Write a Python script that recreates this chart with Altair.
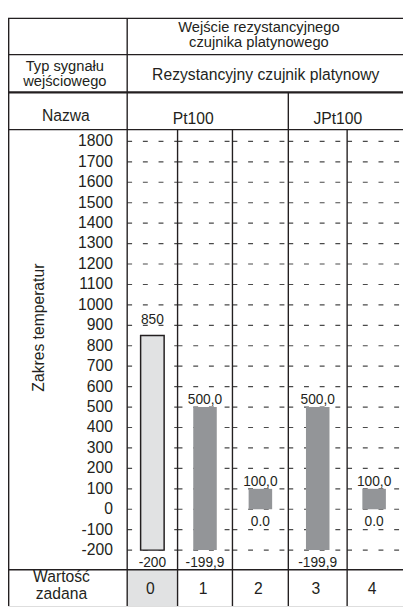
import altair as alt
import pandas as pd

# ---- data ----
setting_values = ["0", "1", "2", "3", "4"]
sensor_names = ["Pt100", "Pt100", "Pt100", "JPt100", "JPt100"]
range_max = [850, 500.0, 100.0, 500.0, 100.0]
range_min = [-200, -199.9, 0.0, -199.9, 0.0]
max_labels = ["850", "500,0", "100,0", "500,0", "100,0"]
min_labels = ["-200", "-199,9", "0.0", "-199,9", "0.0"]
tick_values = [-200, -100, 0, 100, 200, 300, 400, 500, 600, 700, 800, 900,
               1000, 1100, 1200, 1300, 1400, 1500, 1600, 1700, 1800]

header_top = ["Wejście rezystancyjnego", "czujnika platynowego"]
header_type_label = ["Typ sygnału", "wejściowego"]
header_type = "Rezystancyjny czujnik platynowy"
header_name_label = "Nazwa"
axis_title = "Zakres temperatur"
bottom_label = ["Wartość", "zadana"]

# ---- layout ----
W, H = 403, 600
FONT = "Liberation Sans"
INK = "#231f20"
DARK_BAR = "#939598"
LIGHT = "#e1e2e3"

xs = alt.Scale(type="linear", domain=[0, 1, 2, 3, 4, 5],
               range=[117, 173, 229, 286, 346, 406], zero=False, nice=False)
ys = alt.Scale(type="linear", domain=[-200, 1800], range=[543, 126],
               zero=False, nice=False)

df = pd.DataFrame({
    "idx": list(range(len(setting_values))),
    "setting": setting_values,
    "sensor": sensor_names,
    "vmax": range_max,
    "vmin": range_min,
    "lmax": max_labels,
    "lmin": min_labels,
})
df["xc"] = df["idx"] + 0.5
df["x0"] = df["idx"]
df["x1"] = df["idx"] + 1

grid = pd.DataFrame([(i, i + 1, t) for i in df["idx"] for t in tick_values],
                    columns=["x0", "x1", "t"])
ticks_df = pd.DataFrame({"t": tick_values, "label": [str(t) for t in tick_values]})
one = pd.DataFrame({"a": [0]})

X = lambda f: alt.X(f, scale=xs, axis=None)
Y = lambda f: alt.Y(f, scale=ys, axis=None)

layers = []

# bottom row highlighted cell
layers.append(alt.Chart(df[df.idx == 0]).mark_rect(color=LIGHT).encode(
    x=X("x0:Q"), x2="x1:Q", y=alt.value(563), y2=alt.value(H)))

# dashed grid lines per column
layers.append(alt.Chart(grid).mark_rule(color="#4a4a4a", strokeWidth=1.2,
                                        strokeDash=[5, 11]).encode(
    x=X("x0:Q"), x2="x1:Q", y=Y("t:Q")))

# bars
layers.append(alt.Chart(df[df.idx == 0]).mark_bar(
    size=24, color=LIGHT, stroke=INK, strokeWidth=1.5).encode(
    x=X("xc:Q"), y=Y("vmin:Q"), y2="vmax:Q"))
layers.append(alt.Chart(df[df.idx > 0]).mark_bar(size=24, color=DARK_BAR).encode(
    x=X("xc:Q"), y=Y("vmin:Q"), y2="vmax:Q"))

# bar labels
lbl = dict(font=FONT, fontSize=14, color=INK, align="center", baseline="alphabetic")
layers.append(alt.Chart(df[df.idx == 0]).mark_text(dy=-12, **lbl).encode(
    x=X("xc:Q"), y=Y("vmax:Q"), text="lmax:N"))
layers.append(alt.Chart(df[df.idx > 0]).mark_text(dy=-3, **lbl).encode(
    x=X("xc:Q"), y=Y("vmax:Q"), text="lmax:N"))
layers.append(alt.Chart(df).mark_text(dy=17, **lbl).encode(
    x=X("xc:Q"), y=Y("vmin:Q"), text="lmin:N"))

# y tick labels
layers.append(alt.Chart(ticks_df).mark_text(
    font=FONT, fontSize=16, color=INK, align="right", baseline="middle").encode(
    x=alt.value(107), y=Y("t:Q"), text="label:N"))

# axis title
layers.append(alt.Chart(one).mark_text(
    text=axis_title, font=FONT, fontSize=16, color=INK, angle=270,
    align="center", baseline="middle").encode(x=alt.value(32), y=alt.value(316)))

# table lines
line = dict(color=INK, strokeWidth=1.4)
for yy, sw in [(0.5, 1.4), (37.5, 1.4), (76, 2.4), (114, 1.4), (563, 1.4)]:
    layers.append(alt.Chart(one).mark_rule(color=INK, strokeWidth=sw).encode(
        x=alt.value(0), x2=alt.value(W), y=alt.value(yy)))
layers.append(alt.Chart(one).mark_rule(color=INK, strokeWidth=1.8).encode(
    x=alt.value(0.5), y=alt.value(0), y2=alt.value(H)))
# column dividers
layers.append(alt.Chart(df[df.idx == 0]).mark_rule(**line).encode(
    x=X("x0:Q"), y=alt.value(0), y2=alt.value(H)))
layers.append(alt.Chart(df[df.idx == 3]).mark_rule(**line).encode(
    x=X("x0:Q"), y=alt.value(76), y2=alt.value(H)))
layers.append(alt.Chart(df[df.idx.isin([1, 2, 4])]).mark_rule(**line).encode(
    x=X("x0:Q"), y=alt.value(114), y2=alt.value(H)))

# header texts
txt = dict(font=FONT, fontSize=16, color=INK, align="center", baseline="alphabetic")
hdr2 = dict(txt, fontSize=15)
layers.append(alt.Chart(one).mark_text(text=header_top, lineHeight=15, **hdr2).encode(
    x=alt.value(256), y=alt.value(14.5)))
layers.append(alt.Chart(one).mark_text(text=header_type_label, lineHeight=15, **hdr2).encode(
    x=alt.value(58), y=alt.value(54.5)))
layers.append(alt.Chart(one).mark_text(text=header_type, **txt).encode(
    x=alt.value(263), y=alt.value(63)))
layers.append(alt.Chart(one).mark_text(text=header_name_label, **txt).encode(
    x=alt.value(59), y=alt.value(105.5)))

# sensor names (one label per group)
names = df.groupby("sensor", sort=False).agg(xa=("x0", "min"), xb=("x1", "max")).reset_index()
name_pos = {"Pt100": 189, "JPt100": 336.5}
for s in names["sensor"]:
    layers.append(alt.Chart(one).mark_text(text=s, **txt).encode(
        x=alt.value(name_pos[s]), y=alt.value(108.5)))

# bottom row
layers.append(alt.Chart(one).mark_text(text=bottom_label, lineHeight=16.5, **txt).encode(
    x=alt.value(54.5), y=alt.value(576)))
layers.append(alt.Chart(df).mark_text(dx=-2, **txt).encode(
    x=X("xc:Q"), y=alt.value(588), text="setting:N"))

chart = alt.layer(*layers).properties(
    width=W, height=H,
    autosize=alt.AutoSizeParams(type="none"),
    padding={"left": 0, "top": 4, "right": 0, "bottom": 0},
).configure_view(stroke=None).configure(font=FONT)

chart.save("out.html", embed_options={"renderer": "svg", "actions": False})
